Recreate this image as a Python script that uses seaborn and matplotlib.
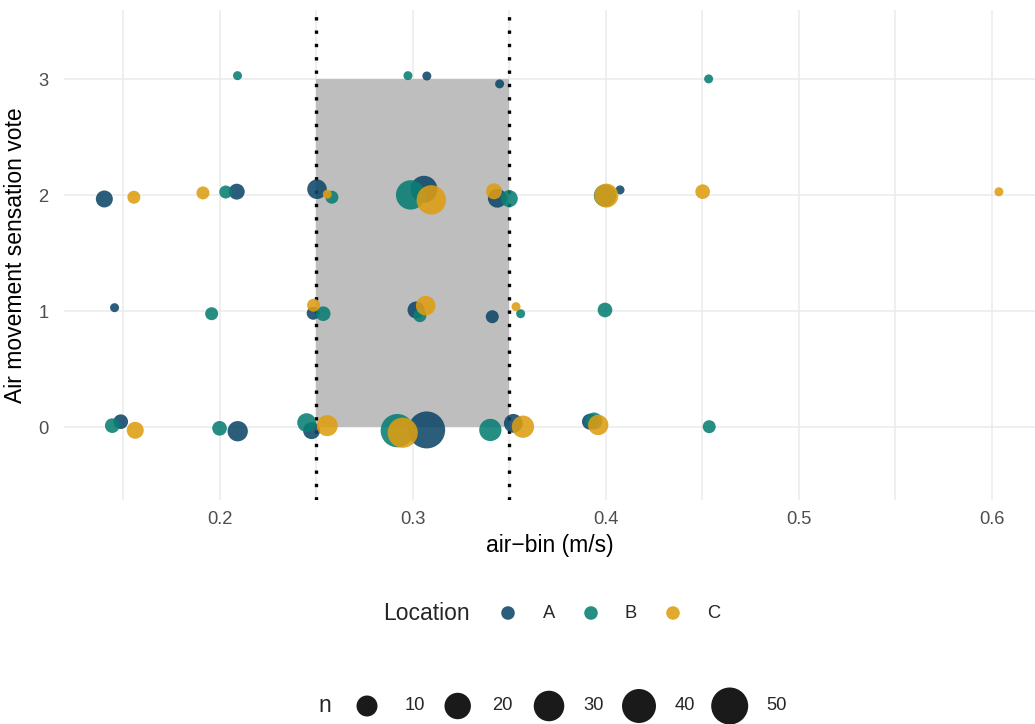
import numpy as np
import pandas as pd
import matplotlib
matplotlib.use("Agg")
import matplotlib.pyplot as plt
from matplotlib.patches import Rectangle
import seaborn as sns

# Jittered air-speed bins (m/s), sensation votes and respondent counts per location
air_bin_a = [0.1401, 0.2087, 0.2503, 0.3057, 0.3437, 0.4073,
             0.1454, 0.2483, 0.3016, 0.3411,
             0.1486, 0.2092, 0.2475, 0.3071, 0.3520, 0.3917,
             0.3072, 0.3449]
vote_a = [1.968, 2.031, 2.052, 2.052, 1.974, 2.046,
          1.031, 0.983, 1.011, 0.953,
          0.048, -0.034, -0.029, -0.023, 0.034, 0.048,
          3.028, 2.960]
n_a = [5, 4, 8, 21, 7, 1,
       1, 2, 5, 2,
       3, 9, 5, 50, 7, 4,
       1, 1]

air_bin_b = [0.2030, 0.2580, 0.2988, 0.3499, 0.3995,
             0.1957, 0.2535, 0.3036, 0.3558, 0.3995,
             0.1442, 0.1998, 0.2449, 0.2919, 0.3401, 0.3938, 0.4535,
             0.2091, 0.2974, 0.4532]
vote_b = [2.028, 1.983, 2.003, 1.971, 1.997,
          0.979, 0.979, 0.962, 0.979, 1.011,
          0.014, -0.009, 0.040, -0.029, -0.023, 0.054, 0.005,
          3.031, 3.031, 3.003]
n_b = [2, 2, 27, 5, 12,
       2, 3, 2, 1, 3,
       3, 3, 7, 38, 12, 5, 2,
       1, 1, 1]

air_bin_c = [0.1554, 0.1912, 0.2556, 0.3095, 0.3420, 0.4002, 0.4501, 0.6036,
             0.2485, 0.3066, 0.3534,
             0.1561, 0.2556, 0.2947, 0.3570, 0.3960]
vote_c = [1.983, 2.020, 2.009, 1.960, 2.034, 1.997, 2.031, 2.030,
          1.052, 1.048, 1.040,
          -0.026, 0.014, -0.047, 0.005, 0.020]
n_c = [2, 2, 1, 27, 4, 15, 3, 1,
       2, 8, 1,
       5, 10, 29, 12, 9]

locations = ["A", "B", "C"]
location_colors = ["#0F4869", "#097E73", "#DE9D12"]
legend_n = [10, 20, 30, 40, 50]

# Recommended air-speed band and vote span shaded on the panel
band_lo, band_hi = 0.25, 0.35
vote_lo, vote_hi = 0, 3

x_major = [0.2, 0.3, 0.4, 0.5, 0.6]
x_minor = [0.15, 0.25, 0.35, 0.45, 0.55]
y_major = [0, 1, 2, 3]

DPI = 100
W, H = 1035, 724


def marker_area(count):
    """Scatter marker area (pt^2) for a respondent count; diameter grows with sqrt(n)."""
    d_px = 9.0 + 4.0 * np.sqrt(max(count, 1) - 1)
    d_pt = d_px * 72.0 / DPI
    return d_pt ** 2


df = pd.concat([
    pd.DataFrame({"air_bin": air_bin_a, "vote": vote_a, "n": n_a, "Location": "A"}),
    pd.DataFrame({"air_bin": air_bin_b, "vote": vote_b, "n": n_b, "Location": "B"}),
    pd.DataFrame({"air_bin": air_bin_c, "vote": vote_c, "n": n_c, "Location": "C"}),
], ignore_index=True)

sns.set_theme(style="white")
plt.rcParams["font.family"] = ["Liberation Sans", "DejaVu Sans"]

fig = plt.figure(figsize=(W / DPI, H / DPI), dpi=DPI)
ax = fig.add_axes([64 / W, 1 - 500 / H, 1 - 64 / W, 490 / H])

grid_col = "#EBEBEB"
ax.set_xlim(0.1192, 0.6223)
ax.set_ylim(-0.627, 3.597)
ax.set_xticks(x_major)
ax.set_xticks(x_minor, minor=True)
ax.set_yticks(y_major)
ax.set_xticklabels([f"{v:.1f}" for v in x_major])
ax.set_yticklabels([str(v) for v in y_major])
ax.grid(True, which="major", axis="both", color=grid_col, lw=1.1, zorder=0)
ax.grid(True, which="minor", axis="x", color=grid_col, lw=1.1, zorder=0)
ax.set_axisbelow(True)
for s in ax.spines.values():
    s.set_visible(False)
ax.tick_params(which="both", length=0)
ax.tick_params(axis="x", pad=8, labelsize=13.2, labelcolor="#4D4D4D")
ax.tick_params(axis="y", pad=11, labelsize=13.2, labelcolor="#4D4D4D")

ax.add_patch(Rectangle((band_lo, vote_lo), band_hi - band_lo, vote_hi - vote_lo,
                       facecolor="#BEBEBE", edgecolor="none", zorder=1))
for xv in (band_lo, band_hi):
    ax.axvline(xv, color="black", lw=2.4, linestyle=(0, (1, 3)),
               dash_capstyle="butt", zorder=2)

sizes = {int(k): marker_area(k) for k in sorted(df["n"].unique())}
sns.scatterplot(data=df, x="air_bin", y="vote", hue="Location",
                hue_order=locations, palette=location_colors,
                size="n", sizes=sizes, alpha=0.88, linewidth=0,
                legend=False, ax=ax, zorder=3)

ax.set_xlabel("air\u2212bin (m/s)", fontsize=16.5, color="black", labelpad=4)
ax.set_ylabel("Air movement sensation vote", fontsize=16.5, color="black", labelpad=8)

# Legends laid out in figure pixel space below the panel
leg = fig.add_axes([0, 0, 1, 1], facecolor="none")
leg.set_xlim(0, W)
leg.set_ylim(H, 0)
leg.axis("off")

leg.text(383, 613, "Location", fontsize=16.5, ha="left", va="center")
key_x = [508, 591, 673]
lab_x = [549, 631, 714]
leg.scatter(key_x, [613] * 3, s=marker_area(2.3), c=location_colors,
            alpha=0.88, linewidths=0)
for lx, name in zip(lab_x, locations):
    leg.text(lx, 613, name, fontsize=13.2, ha="center", va="center")

leg.text(325, 706, "n", fontsize=16.5, ha="center", va="center")
size_x = [367, 457.7, 549, 639, 729.7]
size_lab_x = [415, 502.7, 593.3, 685, 776.7]
leg.scatter(size_x, [706] * 5, s=[marker_area(v) for v in legend_n],
            c="#1A1A1A", linewidths=0)
for lx, v in zip(size_lab_x, legend_n):
    leg.text(lx, 706, str(v), fontsize=13.2, ha="center", va="center")

fig.savefig("out.png", dpi=DPI)
